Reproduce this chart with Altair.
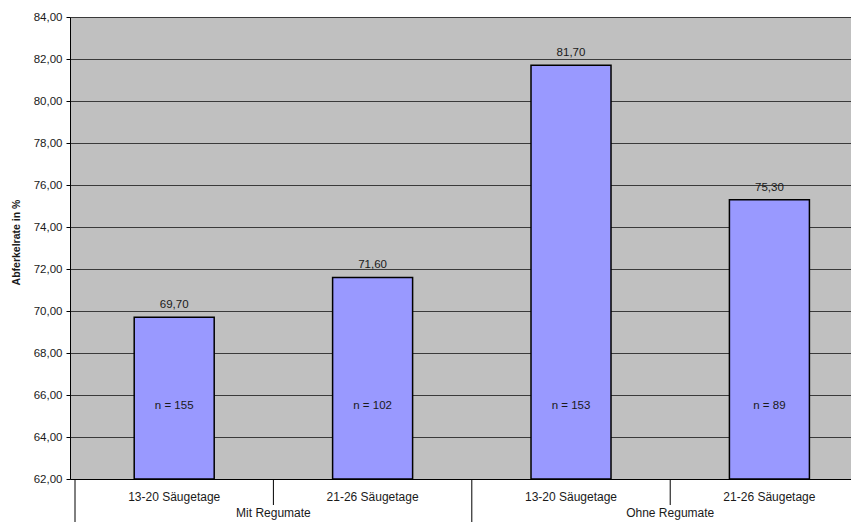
import altair as alt
import pandas as pd
import numpy as np

# ---- data ----
groups = ["Mit Regumate", "Mit Regumate", "Ohne Regumate", "Ohne Regumate"]
periods = ["13-20 Säugetage", "21-26 Säugetage", "13-20 Säugetage", "21-26 Säugetage"]
rates = [69.70, 71.60, 81.70, 75.30]
n_labels = ["n = 155", "n = 102", "n = 153", "n = 89"]
y_ticks = [62, 64, 66, 68, 70, 72, 74, 76, 78, 80, 82, 84]
y_title = "Abferkelrate in %"

# ---- derived tables ----
pos = [i + 0.5 for i in range(len(rates))]
bars_df = pd.DataFrame({
    "group": groups, "period": periods, "rate": rates, "n": n_labels, "pos": pos,
    "rate_label": [f"{v:.2f}".replace(".", ",") for v in rates],
})
group_names = list(dict.fromkeys(groups))
group_df = pd.DataFrame({
    "group": group_names,
    "pos": [float(np.mean([p for p, g in zip(pos, groups) if g == name])) for name in group_names],
})
inner_sep = pd.DataFrame({"pos": [float(i) for i in range(1, len(groups)) if groups[i] == groups[i - 1]]})
outer_sep = pd.DataFrame({"pos": [0.0] + [float(i) for i in range(1, len(groups)) if groups[i] != groups[i - 1]]})

W, H = 781, 462
PAD_T, PAD_B = 9, 43
FONT = "Liberation Sans"
TXT = "#1a1a1a"

x_scale = alt.Scale(domain=[0, 3.886], nice=False, zero=False)
x_axis = alt.Axis(labels=False, ticks=False, grid=False, domain=True, domainColor="#000", title=None)
y_scale = alt.Scale(domain=[62, 84], nice=False, zero=False)
y_axis = alt.Axis(
    values=y_ticks,
    labelExpr="replace(format(datum.value, '.2f'), '.', ',')",
    title=y_title, titleFontWeight="bold", titleFontSize=10.5, titleColor=TXT,
    titleX=-54, titleY=H / 2 - 6, titleAngle=270, titleAlign="center", titleBaseline="middle",
    grid=True, gridColor="#3a3a3a", gridWidth=1,
    tickColor="#000", tickSize=4, labelPadding=4, domainColor="#000",
    labelFontSize=11.5, labelColor=TXT,
)

X = alt.X("pos:Q", scale=x_scale, axis=x_axis)

bars = alt.Chart(bars_df).mark_bar(size=80, color="#9999FF", stroke="#000", strokeWidth=1.5).encode(
    x=X, y=alt.Y("rate:Q", scale=y_scale, axis=y_axis), y2=alt.datum(62)
)
val_labels = alt.Chart(bars_df).mark_text(baseline="alphabetic", dy=-9, fontSize=11.5, color=TXT).encode(
    x=X, y=alt.Y("rate:Q", scale=y_scale, axis=y_axis), text="rate_label:N"
)
n_text = alt.Chart(bars_df).mark_text(baseline="middle", fontSize=11.5, color=TXT).encode(
    x=X, y=alt.value(389), text="n:N"
)
period_text = alt.Chart(bars_df).mark_text(baseline="middle", fontSize=12, color=TXT).encode(
    x=X, y=alt.value(H + 17.5), text="period:N"
)
group_text = alt.Chart(group_df).mark_text(baseline="middle", fontSize=12, color=TXT).encode(
    x=X, y=alt.value(H + 33.5), text="group:N"
)
inner_rules = alt.Chart(inner_sep).mark_rule(color="#000", strokeWidth=1).encode(
    x=X, y=alt.value(H), y2=alt.value(H + 26)
)
outer_rules = alt.Chart(outer_sep).mark_rule(color="#000", strokeWidth=1).encode(
    x=X, y=alt.value(H), y2=alt.value(H + PAD_B)
)

chart = alt.layer(bars, val_labels, n_text, period_text, group_text, inner_rules, outer_rules).properties(
    width=W, height=H,
    autosize=alt.AutoSizeParams(type="none"),
    padding={"left": 62, "top": PAD_T, "right": 0, "bottom": PAD_B},
).configure(font=FONT).configure_view(fill="#C0C0C0", stroke=None)

chart.save("out.html", embed_options={"renderer": "svg", "actions": False})
